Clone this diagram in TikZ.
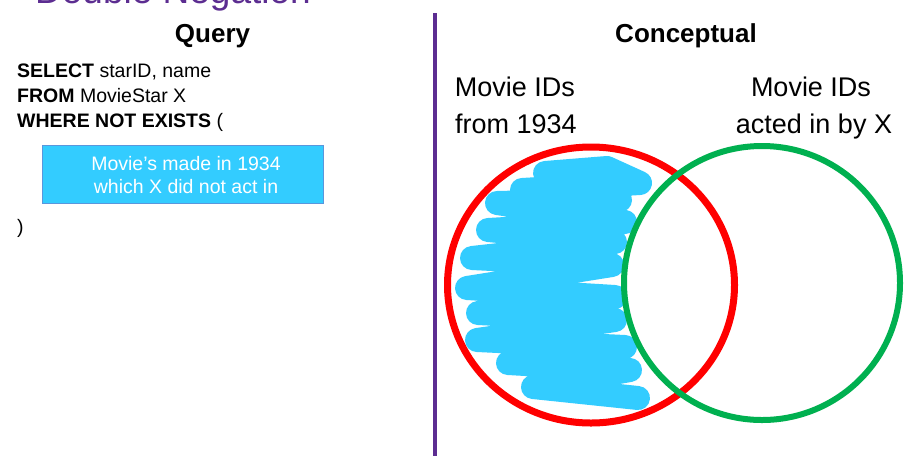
\documentclass[tikz,border=0pt]{standalone}
\usepackage{fontspec}
\setmainfont{Liberation Sans}
\definecolor{ttl}{RGB}{92,45,145}
\definecolor{skyb}{RGB}{51,204,255}
\definecolor{vred}{RGB}{255,0,0}
\definecolor{vgreen}{RGB}{0,176,80}
\definecolor{boxedge}{RGB}{90,150,220}
\begin{document}
\begin{tikzpicture}[x=1pt,y=-1pt,
  txt/.style={inner sep=0pt,anchor=base},
  sql/.style={txt,anchor=base west,font=\fontsize{19.5}{23}\selectfont},
  head/.style={txt,font=\fontsize{26}{31}\selectfont\bfseries},
  lab/.style={txt,font=\fontsize{27}{32}\selectfont},
  boxtxt/.style={txt,text=white,font=\fontsize{19.5}{23}\selectfont}]
\useasboundingbox (0,0) rectangle (909,456);
\fill[white] (0,0) rectangle (909,456);
% title (cut off at the top edge, as in the reference)
\node[txt,anchor=base west,text=ttl,font=\fontsize{37}{44}\selectfont] (title) at (35,3) {Double Negation};
% headers
\node[head] (query) at (212.5,42) {Query};
\node[head] (concept) at (686,42) {Conceptual};
% divider
\coordinate (dtop) at (435,13);
\coordinate (dbot) at (435,456);
\draw[ttl,line width=4pt] (dtop) -- (dbot);
% SQL
\node[sql] (l1) at (17,77) {\textbf{SELECT} starID, name};
\node[sql] (l2) at (17,102) {\textbf{FROM} MovieStar X};
\node[sql] (l3) at (17,127) {\textbf{WHERE NOT EXISTS} (};
\node[draw=boxedge,fill=skyb,line width=0.8pt,minimum width=281pt,minimum height=58pt,inner sep=0pt] (sub) at (182.5,174) {};
\node[boxtxt] (s1) at (186,170) {Movie’s made in 1934};
\node[boxtxt] (s2) at (186,193) {which X did not act in};
\node[sql] (l4) at (17,233) {)};
% labels
\node[lab] (a1) at (515,96) {Movie IDs};
\node[lab] (a2) at (516,133) {from 1934};
\node[lab] (b1) at (811,96) {Movie IDs};
\node[lab] (b2) at (814,133) {acted in by X};
% venn
\draw[vred,line width=7pt] (591,285) ellipse [x radius=143.5, y radius=138];
\draw[skyb,line width=24pt,line cap=round,line join=round]
  (545,173) -- (607,168) -- (640,183) -- (522,190) -- (620,200) -- (497,203)
  -- (625,222) -- (488,230) -- (615,242) -- (472,258) -- (612,265) -- (467,288)
  -- (615,297) -- (478,313) -- (615,320) -- (477,340) -- (625,347) -- (508,363)
  -- (630,370) -- (533,387) -- (638,398);
\draw[vgreen,line width=6pt] (762,283) ellipse [x radius=138, y radius=137];
\end{tikzpicture}
\end{document}
